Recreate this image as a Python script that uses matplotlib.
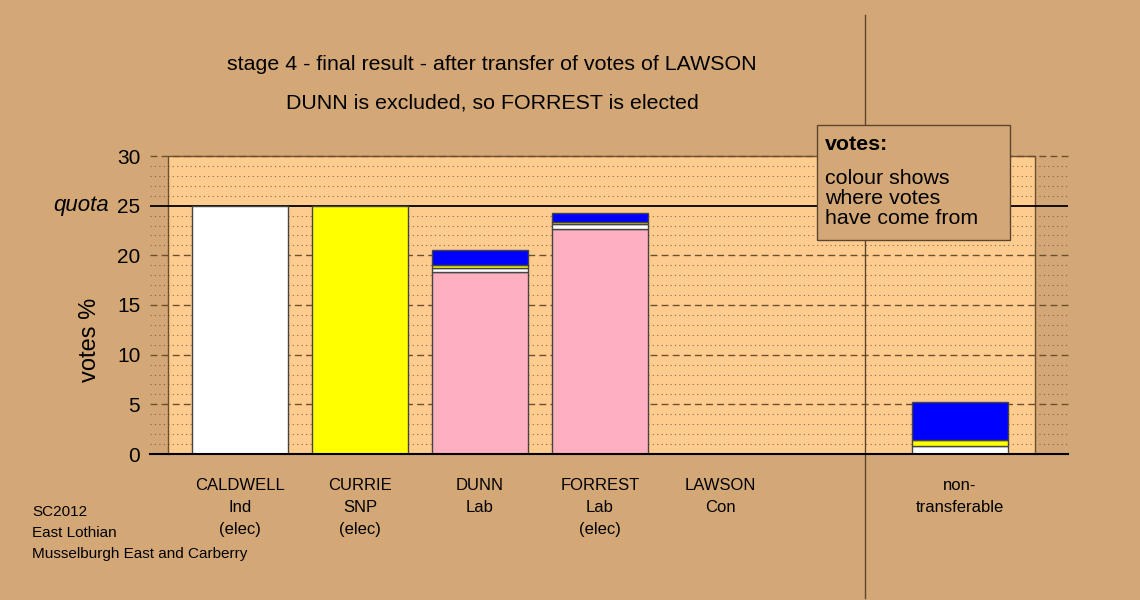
"""Stage 4 STV count chart: votes % by candidate, stacked by where votes came from."""

import matplotlib

matplotlib.use("Agg")
import matplotlib.pyplot as plt
from matplotlib.patches import Rectangle

plt.rcParams["font.family"] = ["Liberation Sans", "DejaVu Sans"]

W, H = 1140, 600

# data (votes %)
CATEGORIES = [
    "CALDWELL\nInd\n(elec)",
    "CURRIE\nSNP\n(elec)",
    "DUNN\nLab",
    "FORREST\nLab\n(elec)",
    "LAWSON\nCon",
    "non-\ntransferable",
]
POSITIONS = [0, 1, 2, 3, 4, 6]
FROM_LABOUR = [0, 0, 18.3, 22.65, 0, 0]
FROM_CALDWELL = [25.0, 0, 0.4, 0.5, 0, 0.8]
FROM_CURRIE = [0, 25.0, 0.35, 0.2, 0, 0.6]
FROM_LAWSON = [0, 0, 1.5, 0.9, 0, 3.8]
QUOTA = 25
Y_TICKS = [0, 5, 10, 15, 20, 25, 30]
NOTE_LINES = ["SC2012", "East Lothian", "Musselburgh East and Carberry"]

BG = "#D4A876"
PLOT_BG = "#FFCC90"
GRID = "#6b5030"


def px(x, y):
    return x / W, 1 - y / H


fig = plt.figure(figsize=(W / 100, H / 100), dpi=100, facecolor=BG)
ax = fig.add_axes([150 / W, 1 - 454 / H, (1068 - 150) / W, (454 - 156) / H])
ax.set_facecolor(BG)
ax.set_xlim(-0.75, 6.9)
ax.set_ylim(0, 30)
for s in ax.spines.values():
    s.set_visible(False)

# light plotting area with border on left/top/right
ax.add_patch(Rectangle((-0.6, 0), 7.225, 30, facecolor=PLOT_BG, edgecolor="none", zorder=0))
ax.plot([-0.6, -0.6, 6.625, 6.625], [0, 30, 30, 0], color=GRID, lw=1, zorder=1, clip_on=False)

# grid lines
for v in range(0, 31):
    if v == 0 or v == QUOTA:
        continue
    if v % 5 == 0:
        ax.axhline(v, color=GRID, lw=1, ls=(0, (5, 3)), zorder=1, clip_on=False)
    else:
        ax.axhline(v, color=GRID, lw=0.8, ls=(0, (1, 3)), alpha=0.8, zorder=1)
ax.axhline(QUOTA, color="black", lw=1.3, zorder=2)

# stacked bars
bottom = [0.0] * len(POSITIONS)
for values, colour in [
    (FROM_LABOUR, "#FFB0C0"),
    (FROM_CALDWELL, "white"),
    (FROM_CURRIE, "#FFFF00"),
    (FROM_LAWSON, "#0000FF"),
]:
    for i, (pos, v) in enumerate(zip(POSITIONS, values)):
        if v > 0:
            ax.bar(pos, v, width=0.8, bottom=bottom[i], color=colour,
                   edgecolor="#444444", linewidth=1, zorder=3)
            bottom[i] += v

ax.axhline(0, color="black", lw=1.5, zorder=4, clip_on=False)

# axes labels
ax.set_yticks(Y_TICKS)
ax.set_yticklabels([str(t) for t in Y_TICKS], fontsize=15)
ax.tick_params(axis="y", length=0, pad=7)
ax.set_xticks([])
ax.text(-0.045, QUOTA, "quota", transform=ax.get_yaxis_transform(),
        ha="right", va="center", fontsize=16, style="italic")

for pos, label in zip(POSITIONS, CATEGORIES):
    ax.text(pos, -0.082, label, transform=ax.get_xaxis_transform(),
            ha="center", va="top", fontsize=12, linespacing=1.55)

# divider between candidates and non-transferable
ax.axvline(5.21, ymin=-0.483, ymax=1.473, color="#5a4530", lw=1, clip_on=False, zorder=1)

fig.text(*px(90, 340), "votes %", rotation=90, ha="center", va="center", fontsize=17)
fig.text(*px(492, 65), "stage 4 - final result - after transfer of votes of LAWSON",
         ha="center", va="center", fontsize=15.4)
fig.text(*px(492, 103), "DUNN is excluded, so FORREST is elected",
         ha="center", va="center", fontsize=15.4)

# note box
fig.patches.append(Rectangle(px(817, 240), 193 / W, 115 / H, transform=fig.transFigure,
                             facecolor=BG, edgecolor="#5a4530", lw=1, zorder=5))
fig.text(*px(825, 145), "votes:", ha="left", va="center", fontsize=15.4,
         fontweight="bold", zorder=6)
fig.text(*px(825, 169), "colour shows\nwhere votes\nhave come from", ha="left",
         va="top", fontsize=15.4, linespacing=1.05, zorder=6)

for k, line in enumerate(NOTE_LINES):
    fig.text(*px(32, 512 + 21 * k), line, ha="left", va="center", fontsize=11)

fig.savefig("out.png", dpi=100, facecolor=BG)
